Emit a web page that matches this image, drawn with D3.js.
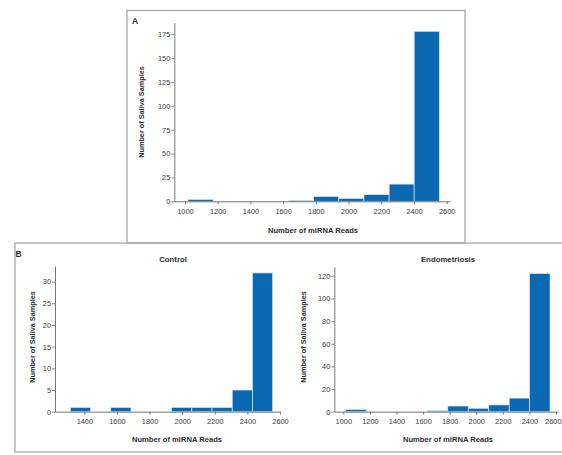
<!DOCTYPE html>
<html>
<head>
<meta charset="utf-8">
<script src="https://cdn.jsdelivr.net/npm/d3@7"></script>
<style>
  html, body { margin: 0; padding: 0; background: #fff; }
  svg { display: block; }
  .tick text { font-family: "Liberation Sans", Arial, sans-serif; font-size: 7.4px; fill: #3a3a3a; }
  .ttl { font-family: "Liberation Sans", Arial, sans-serif; font-weight: bold; fill: #2e2e2e; }
</style>
</head>
<body>
<svg id="chart" width="562" height="455"></svg>
<script>
// ---- Data ----
const edgesAll = [1018, 1172, 1325, 1479, 1633, 1786, 1940, 2094, 2248, 2401, 2555];
const countsAll = [2, 0, 0, 0, 1, 5, 3, 7, 18, 178];
const edgesControl = [1314, 1438, 1562, 1686, 1810, 1934, 2059, 2183, 2307, 2431, 2555];
const countsControl = [1, 0, 1, 0, 0, 1, 1, 1, 5, 32];
const edgesEndo = [1018, 1172, 1325, 1479, 1633, 1786, 1940, 2094, 2248, 2401, 2555];
const countsEndo = [2, 0, 0, 0, 1, 5, 3, 6, 12, 122];
const xTicksAll = [1000, 1200, 1400, 1600, 1800, 2000, 2200, 2400, 2600];
const xTicksControl = [1400, 1600, 1800, 2000, 2200, 2400, 2600];
const yTicksAll = [0, 25, 50, 75, 100, 125, 150, 175];
const yTicksControl = [0, 5, 10, 15, 20, 25, 30];
const yTicksEndo = [0, 20, 40, 60, 80, 100, 120];

const svg = d3.select("#chart");
const BAR = "#0b68b3";

// panel frames
svg.append("rect").attr("x", 127).attr("y", 10.5).attr("width", 338).attr("height", 232.5)
  .attr("fill", "none").attr("stroke", "#a8a8a8").attr("stroke-width", 1.3);
svg.append("rect").attr("x", 15).attr("y", 243).attr("width", 560).attr("height", 209)
  .attr("fill", "none").attr("stroke", "#a8a8a8").attr("stroke-width", 1.3);

svg.append("text").attr("class", "ttl").attr("x", 132).attr("y", 23.5).attr("font-size", 8.5).text("A");
svg.append("text").attr("class", "ttl").attr("x", 15.5).attr("y", 257).attr("font-size", 8.5).text("B");

function histogram(cfg) {
  const x = d3.scaleLinear().domain(cfg.xDomain).range(cfg.xRange);
  const y = d3.scaleLinear().domain(cfg.yDomain).range(cfg.yRange);
  const g = svg.append("g");
  const bins = cfg.counts.map((c, i) => ({ x0: cfg.edges[i], x1: cfg.edges[i + 1], c }));

  g.selectAll("rect.bar").data(bins.filter(d => d.c > 0)).join("rect")
    .attr("class", "bar")
    .attr("x", d => x(d.x0))
    .attr("width", d => x(d.x1) - x(d.x0))
    .attr("y", d => y(d.c))
    .attr("height", d => y(0) - y(d.c))
    .attr("fill", BAR)
    .attr("stroke", "#d8e8f5")
    .attr("stroke-width", 0.7);

  const xAxis = d3.axisBottom(x).tickValues(cfg.xTicks).tickSize(3).tickSizeOuter(0).tickFormat(d3.format("d"));
  const gx = g.append("g").attr("transform", `translate(0,${y(0)})`).call(xAxis);
  const yAxis = d3.axisLeft(y).tickValues(cfg.yTicks).tickSize(3).tickSizeOuter(0);
  const gy = g.append("g").attr("transform", `translate(${cfg.xRange[0]},0)`).call(yAxis);
  [gx, gy].forEach(a => {
    a.select(".domain").attr("stroke", "#666").attr("stroke-width", 0.9);
    a.selectAll(".tick line").attr("stroke", "#666").attr("stroke-width", 0.8);
  });
  gx.selectAll(".tick text").attr("dy", "0.9em");
  if (cfg.clipLast) {
    gx.selectAll(".tick text").filter((d, i, n) => i === n.length - 1)
      .attr("text-anchor", "end").attr("x", 561 - x(cfg.xTicks[cfg.xTicks.length - 1]));
  }
  gy.selectAll(".tick text").attr("x", -4);

  g.append("text").attr("class", "ttl").attr("font-size", 7.6)
    .attr("text-anchor", "middle").attr("x", cfg.xTitleX).attr("y", cfg.xTitleY)
    .text("Number of miRNA Reads");
  g.append("text").attr("class", "ttl").attr("font-size", 7.3)
    .attr("text-anchor", "middle")
    .attr("transform", `translate(${cfg.yTitleX},${cfg.yTitleY}) rotate(-90)`)
    .text("Number of Saliva Samples");
  if (cfg.title) {
    g.append("text").attr("class", "ttl").attr("font-size", 7.8)
      .attr("text-anchor", "middle").attr("x", cfg.titleX).attr("y", 262)
      .text(cfg.title);
  }
}

histogram({
  edges: edgesAll, counts: countsAll,
  xDomain: [935, 2620], xRange: [174.3, 450],
  yDomain: [0, 187], yRange: [201.3, 22.7],
  xTicks: xTicksAll, yTicks: yTicksAll,
  xTitleX: 313, xTitleY: 233, yTitleX: 144, yTitleY: 112
});

histogram({
  edges: edgesControl, counts: countsControl,
  xDomain: [1220, 2600], xRange: [55, 280],
  yDomain: [0, 33.6], yRange: [411.7, 266],
  xTicks: xTicksControl, yTicks: yTicksControl,
  xTitleX: 177, xTitleY: 442, yTitleX: 34.5, yTitleY: 337,
  title: "Control", titleX: 173
});

histogram({
  edges: edgesEndo, counts: countsEndo,
  xDomain: [932, 2615], xRange: [334.3, 558],
  yDomain: [0, 128], yRange: [411.7, 266.7],
  xTicks: xTicksAll, yTicks: yTicksEndo,
  xTitleX: 448, xTitleY: 442, yTitleX: 306, yTitleY: 337,
  title: "Endometriosis", titleX: 448, clipLast: true
});
</script>
</body>
</html>
